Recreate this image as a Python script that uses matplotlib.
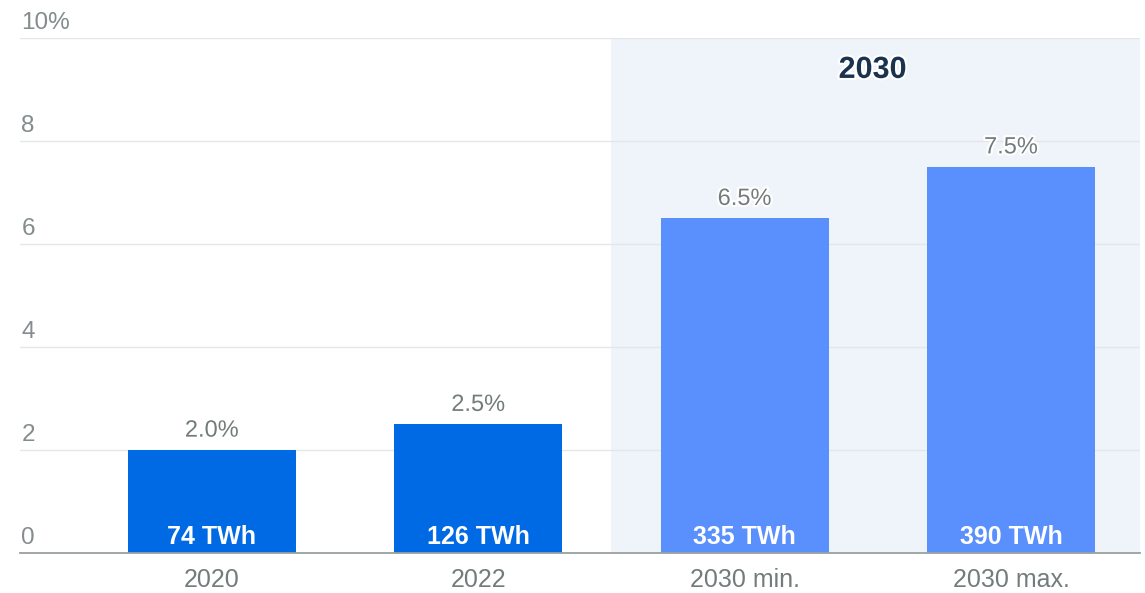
import matplotlib.pyplot as plt
import matplotlib.patheffects as pe

# data
categories = ['2020', '2022', '2030 min.', '2030 max.']
shares = [2.0, 2.5, 6.5, 7.5]
share_labels = ['2.0%', '2.5%', '6.5%', '7.5%']
twh_labels = ['74 TWh', '126 TWh', '335 TWh', '390 TWh']
yticks = [0, 2, 4, 6, 8, 10]
ytick_labels = ['0', '2', '4', '6', '8', '10%']

plt.rcParams['font.family'] = ['Liberation Sans', 'DejaVu Sans']

fig = plt.figure(figsize=(11.45, 5.93), dpi=100)
ax = fig.add_axes([20 / 1145, 1 - 553 / 593, 1120 / 1145, (553 - 38) / 593])

x = list(range(len(categories)))
colors = ['#0069e4', '#0069e4', '#5a90fd', '#5a90fd']

ax.set_xlim(-0.72, 3.484)
ax.set_ylim(0, 10)

# shaded 2030 area
ax.axvspan(1.5, 3.484, color='#eff4fb', zorder=0, lw=0)

for t in yticks[1:]:
    ax.axhline(t, color='#e4e6e8', lw=1, zorder=1)

ax.bar(x, shares, width=0.63, color=colors, zorder=2)

halo = [pe.withStroke(linewidth=3, foreground='white')]
for xi, v, lab, twh in zip(x, shares, share_labels, twh_labels):
    ax.annotate(lab, (xi, v), xytext=(0, 6), textcoords='offset points',
                ha='center', va='bottom', fontsize=17, color='#737c7c',
                path_effects=halo, zorder=3)
    ax.annotate(twh, (xi, 0), xytext=(0, 3), textcoords='offset points',
                ha='center', va='bottom', fontsize=18, color='white',
                fontweight='bold', zorder=3)

ax.text(2.48, 9.38, '2030', ha='center', va='center', fontsize=22,
        fontweight='bold', color='#1c3350', path_effects=halo, zorder=3)

# y tick labels sit above their gridlines at the left edge
for t, lab in zip(yticks, ytick_labels):
    ax.annotate(lab, (-0.72, t), xytext=(1, 3), textcoords='offset points',
                ha='left', va='bottom', fontsize=17.5, color='#848d8d',
                annotation_clip=False)

ax.set_yticks([])
ax.set_xticks(x)
ax.set_xticklabels(categories, fontsize=18, color='#737c7c')
ax.tick_params(axis='x', length=0, pad=11)

for s in ['top', 'right', 'left']:
    ax.spines[s].set_visible(False)
ax.spines['bottom'].set_color('#9aa0a0')
ax.spines['bottom'].set_linewidth(1.3)
ax.spines['bottom'].set_zorder(4)

fig.savefig('out.png', dpi=100)
